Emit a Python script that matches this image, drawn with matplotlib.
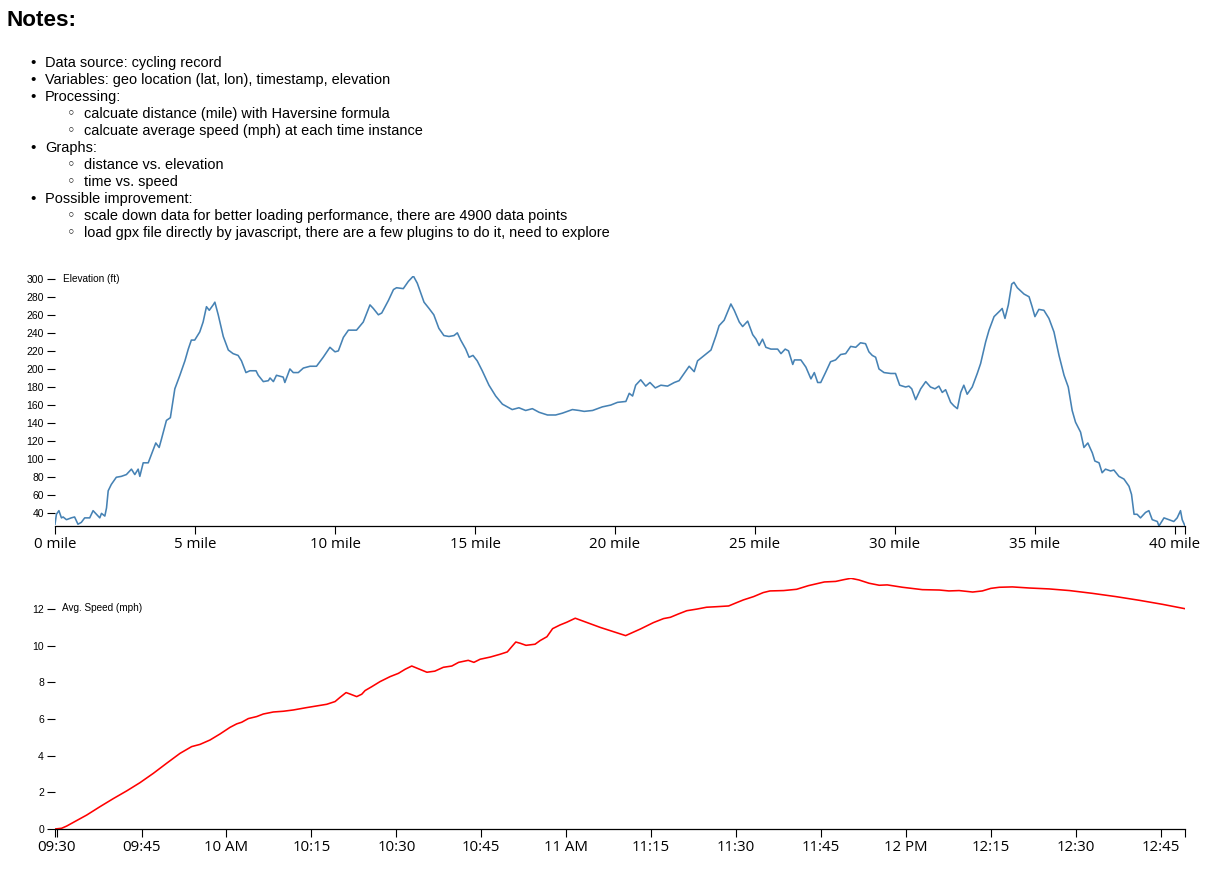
import matplotlib
matplotlib.use("Agg")
import matplotlib.pyplot as plt
import matplotlib.transforms as mtransforms

# ---- notes text ----
notes_title = "Notes:"
notes_lines = [
    (0, "Data source: cycling record"),
    (0, "Variables: geo location (lat, lon), timestamp, elevation"),
    (0, "Processing:"),
    (1, "calcuate distance (mile) with Haversine formula"),
    (1, "calcuate average speed (mph) at each time instance"),
    (0, "Graphs:"),
    (1, "distance vs. elevation"),
    (1, "time vs. speed"),
    (0, "Possible improvement:"),
    (1, "scale down data for better loading performance, there are 4900 data points"),
    (1, "load gpx file directly by javascript, there are a few plugins to do it, need to explore"),
]

# ---- distance (mile) vs elevation (ft) ----
dist_mile = [
    0.00, 0.05, 0.14, 0.23, 0.29, 0.41, 0.58, 0.70, 0.82, 0.94, 1.06, 1.24, 1.36, 1.48, 1.60, 1.66,
    1.78, 1.84, 1.90, 2.01, 2.19, 2.37, 2.55, 2.73, 2.85, 2.97, 3.03, 3.15, 3.33, 3.44, 3.60, 3.72,
    3.80, 3.98, 4.12, 4.28, 4.46, 4.64, 4.76, 4.87, 4.99, 5.17, 5.29, 5.41, 5.51, 5.65, 5.71, 5.83,
    6.01, 6.19, 6.36, 6.54, 6.66, 6.82, 6.96, 7.18, 7.26, 7.44, 7.62, 7.68, 7.80, 7.91, 8.15, 8.21,
    8.39, 8.51, 8.69, 8.87, 9.11, 9.34, 9.58, 9.82, 10.00, 10.12, 10.30, 10.48, 10.77, 11.01, 11.25,
    11.37, 11.55, 11.67, 11.91, 12.09, 12.20, 12.44, 12.62, 12.80,
    12.94, 13.18, 13.36, 13.53, 13.71, 13.89, 14.07, 14.25, 14.37, 14.49, 14.67, 14.79, 14.93, 15.08,
    15.26, 15.50, 15.74, 15.98, 16.33, 16.57, 16.81, 17.05, 17.29, 17.59, 17.88, 18.12, 18.48, 18.72,
    18.90, 19.20, 19.55, 19.85, 20.09, 20.39, 20.51, 20.63, 20.74, 20.92, 21.10, 21.25, 21.44, 21.64,
    21.88, 22.12, 22.29, 22.47, 22.65, 22.83, 22.95, 23.19, 23.43, 23.61, 23.72, 23.90, 24.02, 24.14,
    24.26, 24.44, 24.56, 24.74, 24.92, 25.04, 25.15, 25.27, 25.39, 25.57, 25.81, 25.93, 26.08, 26.20,
    26.35, 26.41, 26.64, 26.82, 27.00, 27.12, 27.24,
    27.35, 27.52, 27.70, 27.88, 28.06, 28.24, 28.42, 28.60, 28.77, 28.95, 29.07, 29.19, 29.31, 29.43,
    29.61, 29.85, 30.02, 30.17, 30.38, 30.50, 30.60, 30.74, 30.92, 31.10, 31.27, 31.43, 31.57, 31.69,
    31.81, 31.99, 32.11, 32.23, 32.35, 32.46, 32.58, 32.76, 32.94, 33.06, 33.24, 33.36, 33.54, 33.77,
    33.83, 33.93, 34.05, 34.17, 34.25, 34.37, 34.61, 34.79, 34.90, 35.00, 35.14, 35.32, 35.50, 35.68,
    35.86, 36.04, 36.19, 36.33, 36.45, 36.63, 36.75, 36.89, 37.05, 37.14, 37.29, 37.40, 37.52, 37.70,
    37.82, 38.00, 38.18, 38.36, 38.45, 38.54, 38.65, 38.77, 38.95, 39.07, 39.19, 39.37, 39.43, 39.61,
    39.79, 39.96, 40.08, 40.20, 40.26, 40.36,
]
elev_ft = [
    28, 39, 43, 35, 36, 33, 35, 36, 28, 30, 35, 35, 43, 39, 35, 40,
    37, 46, 65, 72, 80, 81, 83, 89, 83, 89, 81, 96, 96, 105, 118, 113,
    122, 143, 146, 178, 193, 209, 222, 232, 232, 241, 252, 269, 265, 271, 274, 260,
    236, 221, 217, 215, 209, 196, 198, 198, 193, 186, 187, 190, 186, 193, 191, 185,
    200, 196, 196, 201, 203, 203, 213, 224, 219, 220, 235, 243, 243, 252, 271,
    267, 260, 262, 276, 288, 290, 289, 297, 303,
    295, 274, 267, 260, 245, 237, 236, 237, 240, 232, 222, 213, 215, 209,
    198, 182, 170, 161, 155, 157, 154, 156, 152, 149, 149, 151, 155, 154,
    153, 154, 158, 160, 163, 164, 173, 170, 182, 188, 181, 185, 179, 182,
    181, 185, 187, 195, 203, 197, 209, 215, 221, 237, 248, 254, 263, 272,
    265, 252, 247, 253, 238, 233, 226, 233, 224, 222, 222, 217, 222, 220,
    205, 210, 210, 202, 189, 196, 185,
    185, 196, 208, 210, 216, 217, 225, 224, 229, 228, 219, 215, 213, 200,
    196, 195, 195, 182, 180, 181, 178, 166, 178, 186, 180, 178, 181, 174,
    177, 163, 159, 156, 174, 182, 172, 180, 195, 206, 230, 243, 258, 265,
    267, 256, 271, 294, 296, 290, 283, 280, 269, 258, 266, 265, 256, 241,
    215, 193, 180, 154, 141, 130, 113, 118, 107, 98, 96, 85, 89, 87,
    88, 81, 78, 70, 61, 39, 39, 35, 41, 43, 33, 31, 26, 35,
    33, 31, 35, 43, 33, 26,
]
mile_ticks = [0, 5, 10, 15, 20, 25, 30, 35, 40]
elev_ticks = list(range(40, 301, 20))

# ---- time (minutes after 09:30) vs average speed (mph) ----
speed_min = [
    -0.29, 0.88, 1.77, 3.53, 5.30, 7.66, 10.01, 12.37, 14.72, 17.08, 19.43, 21.79, 23.85, 25.32,
    27.09, 28.86, 30.62, 31.80, 32.69, 33.86, 35.34, 36.51, 38.28, 40.05, 41.81, 44.17, 45.94,
    47.70, 49.18, 50.06, 51.12, 51.83, 53.00, 53.89, 54.48, 55.65, 57.13, 58.89, 60.37, 61.54,
    62.72, 65.4, 66.8, 68.3, 69.8, 71.0, 72.7, 73.7, 74.8, 76.6, 78.3, 79.6, 80.4, 81.1, 81.9,
    82.9, 84.5, 85.4, 86.6, 87.6, 88.9, 90.1, 91.6, 96.0, 100.5, 103.1, 105.4, 107.2, 108.4,
    109.8, 111.3, 113.1, 114.8, 116.6, 118.7, 120.1, 121.3, 123.1, 124.8, 126.0, 128.4, 130.7,
    132.8, 135.6, 137.6, 139.1, 140.3, 141.7, 143.5, 145.3, 146.7, 149.4, 152.9, 155.9, 157.6,
    159.4, 161.8, 163.5, 165.0, 166.5, 168.8, 171.8, 175.3, 178.9, 182.9, 187.1, 191.2, 195.3,
    199.3,
]
speed_mph = [
    0.00, 0.04, 0.16, 0.46, 0.76, 1.22, 1.66, 2.08, 2.53, 3.04, 3.59, 4.13, 4.50, 4.62,
    4.86, 5.19, 5.55, 5.74, 5.83, 6.03, 6.14, 6.28, 6.39, 6.43, 6.50, 6.63, 6.72,
    6.81, 6.96, 7.19, 7.45, 7.37, 7.23, 7.36, 7.56, 7.77, 8.05, 8.32, 8.50, 8.72,
    8.90, 8.56, 8.62, 8.83, 8.90, 9.10, 9.21, 9.10, 9.27, 9.39, 9.54, 9.67, 9.96, 10.21, 10.14,
    10.03, 10.09, 10.29, 10.50, 10.94, 11.14, 11.29, 11.51, 11.01, 10.56, 10.92, 11.27, 11.49, 11.56,
    11.74, 11.92, 12.01, 12.11, 12.14, 12.18, 12.36, 12.51, 12.69, 12.91, 13.00, 13.02, 13.09,
    13.29, 13.49, 13.52, 13.62, 13.69, 13.60, 13.42, 13.31, 13.33, 13.20, 13.07, 13.05, 13.00,
    13.02, 12.94, 13.00, 13.14, 13.20, 13.22, 13.16, 13.11, 13.02, 12.87, 12.69, 12.49, 12.27,
    12.03,
]
time_ticks = list(range(0, 196, 15))
time_labels = ["09:30", "09:45", "10 AM", "10:15", "10:30", "10:45", "11 AM",
               "11:15", "11:30", "11:45", "12 PM", "12:15", "12:30", "12:45"]
speed_ticks = [0, 2, 4, 6, 8, 10, 12]

W, H = 1229, 875
fig = plt.figure(figsize=(W / 100, H / 100), dpi=100)

# notes block
fig.text(7 / W, 1 - 21 / H, notes_title, fontsize=16.2, fontweight="bold",
         family=["Liberation Sans", "DejaVu Sans"], va="center", ha="left")
for i, (lvl, txt) in enumerate(notes_lines):
    yy = 1 - (63 + i * 17) / H
    if lvl == 0:
        fig.text(30 / W, yy, "\u2022", fontsize=11, family=["Liberation Sans", "DejaVu Sans"],
                 va="center", ha="left")
        fig.text(45 / W, yy, txt, fontsize=10.45, family=["Liberation Sans", "DejaVu Sans"],
                 va="center", ha="left")
    else:
        fig.text(67 / W, yy, "\u25e6", fontsize=10.5, family=["DejaVu Sans"],
                 va="center", ha="left")
        fig.text(84 / W, yy, txt, fontsize=10.45, family=["Liberation Sans", "DejaVu Sans"],
                 va="center", ha="left")

tick_font = dict(family=["Open Sans", "DejaVu Sans"], size=10.8)
ytick_font = dict(family=["Liberation Sans", "DejaVu Sans"], size=7.5)


def style_axis(ax, xlo, xhi):
    for s in ["top", "right", "left"]:
        ax.spines[s].set_visible(False)
    ax.spines["bottom"].set_linewidth(0.9)
    ax.tick_params(axis="both", which="both", length=6, width=0.8, color="black")
    ax.tick_params(axis="x", pad=2)
    ax.tick_params(axis="y", pad=2)
    # outer ticks at both ends of the domain, like a d3 axis
    ax.set_xticks([xlo, xhi], minor=True)
    ax.tick_params(axis="x", which="minor", labelbottom=False)
    for lab in ax.get_xticklabels():
        lab.set_fontfamily(tick_font["family"])
        lab.set_fontsize(tick_font["size"])
    for lab in ax.get_yticklabels():
        lab.set_fontfamily(ytick_font["family"])
        lab.set_fontsize(ytick_font["size"])


# elevation chart
ax1 = fig.add_axes([55 / W, (H - 526) / H, 1130 / W, 250 / H])
ax1.plot(dist_mile, elev_ft, color="#4682b4", lw=1.15)
ax1.set_xlim(min(dist_mile), max(dist_mile))
ax1.set_ylim(min(elev_ft), max(elev_ft))
ax1.set_xticks(mile_ticks)
ax1.set_xticklabels([f"{m} mile" for m in mile_ticks])
ax1.set_yticks(elev_ticks)
style_axis(ax1, min(dist_mile), max(dist_mile))
tr1 = mtransforms.blended_transform_factory(ax1.transAxes, ax1.transData)
ax1.annotate("Elevation (ft)", xy=(0, 300), xycoords=tr1, xytext=(6, 0),
             textcoords="offset points", va="center", ha="left",
             fontsize=7.2, family=["Liberation Sans", "DejaVu Sans"])

# speed chart
top_speed = max(speed_mph)
ax2 = fig.add_axes([55 / W, (H - 829) / H, 1130 / W, (829 - 578.3) / H])
ax2.plot(speed_min, speed_mph, color="red", lw=1.15)
ax2.set_xlim(min(speed_min), max(speed_min))
ax2.set_ylim(0, top_speed)
ax2.set_xticks(time_ticks)
ax2.set_xticklabels(time_labels)
ax2.set_yticks(speed_ticks)
style_axis(ax2, min(speed_min), max(speed_min))
tr2 = mtransforms.blended_transform_factory(ax2.transAxes, ax2.transData)
ax2.annotate("Avg. Speed (mph)", xy=(0, 12), xycoords=tr2, xytext=(5, 1),
             textcoords="offset points", va="center", ha="left",
             fontsize=7.2, family=["Liberation Sans", "DejaVu Sans"])

fig.savefig("out.png", dpi=100)
